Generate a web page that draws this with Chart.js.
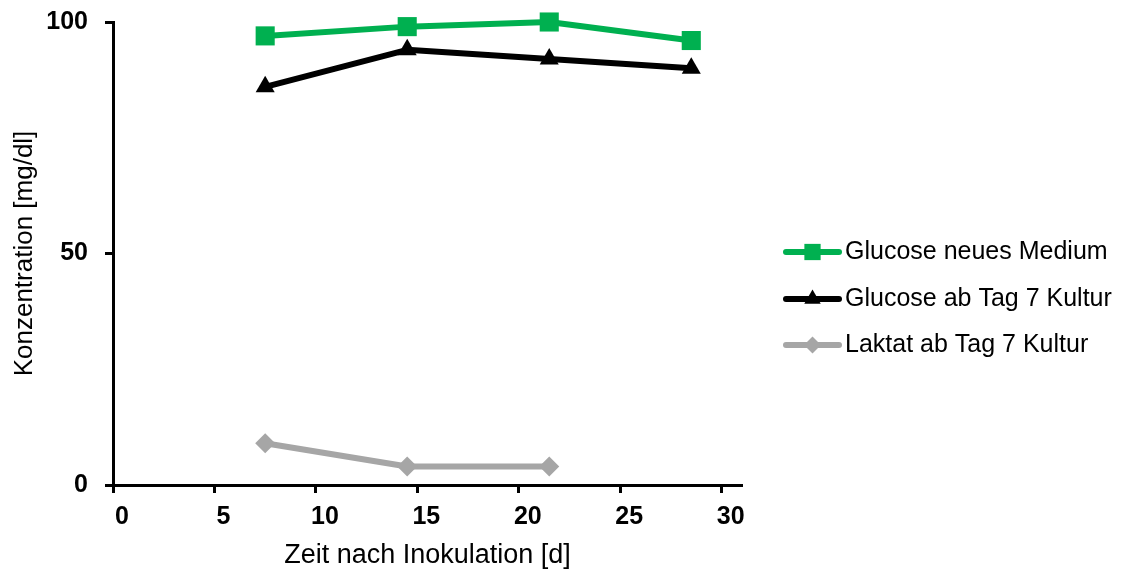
<!DOCTYPE html>
<html>
<head>
<meta charset="utf-8">
<script src="https://cdn.jsdelivr.net/npm/chart.js@4.4.0/dist/chart.umd.min.js"></script>
<style>
	html, body { margin: 0; padding: 0; background: #fff; }
	#wrap { position: relative; width: 1143px; height: 574px; }
</style>
</head>
<body>
<div id="wrap"><canvas id="chart"></canvas></div>
<script>
const days = [7.5, 14.5, 21.5, 28.5];
const glucoseNeu = [97, 99, 100, 96];
const glucoseTag7 = [86, 94, 92, 90];
const laktatTag7 = [9, 4, 4];
const xTickValues = [0, 5, 10, 15, 20, 25, 30];
const yTickValues = [0, 50, 100];
const seriesNames = ['Glucose neues Medium', 'Glucose ab Tag 7 Kultur', 'Laktat ab Tag 7 Kultur'];

const FONT = "'Liberation Sans', Arial, sans-serif";

function points(values) {
	return values.map((v, i) => ({ x: days[i], y: v }));
}

function series(i, values, color, style, radius, legendRadius) {
	return {
		label: seriesNames[i],
		data: points(values),
		borderColor: color,
		backgroundColor: color,
		pointBackgroundColor: color,
		pointBorderWidth: 0,
		pointStyle: style,
		pointRadius: radius,
		pointHoverRadius: radius,
		borderWidth: 6,
		borderJoinStyle: 'round',
		borderCapStyle: 'round',
		clip: false,
		legendRadius: legendRadius
	};
}

// legend on the right: a short line with the marker on it, then the name
const sideLegend = {
	id: 'sideLegend',
	afterDraw(chart) {
		const ctx = chart.ctx;
		const x0 = 786, x1 = 839, rows = [252, 299, 345];
		chart.data.datasets.forEach((ds, i) => {
			const y = rows[i];
			ctx.save();
			ctx.strokeStyle = ds.borderColor;
			ctx.lineWidth = ds.borderWidth;
			ctx.lineCap = 'round';
			ctx.beginPath();
			ctx.moveTo(x0, y);
			ctx.lineTo(x1, y);
			ctx.stroke();
			ctx.fillStyle = ds.pointBackgroundColor;
			Chart.helpers.drawPoint(ctx, { pointStyle: ds.pointStyle, radius: ds.legendRadius, borderWidth: 0 }, (x0 + x1) / 2, y);
			ctx.fillStyle = '#000';
			ctx.font = '25px ' + FONT;
			ctx.textBaseline = 'middle';
			ctx.fillText(ds.label, 845, y);
			ctx.restore();
		});
	}
};

const chart = new Chart(document.getElementById('chart'), {
	type: 'line',
	data: {
		datasets: [
			series(0, glucoseNeu, '#00B050', 'rect', 13.5, 11.5),
			series(1, glucoseTag7, '#000000', 'triangle', 11, 9.5),
			series(2, laktatTag7, '#A6A6A6', 'rectRot', 10, 8.5)
		]
	},
	options: {
		responsive: true,
		maintainAspectRatio: false,
		animation: false,
		layout: { padding: { top: 22, right: 401, left: 0, bottom: 0 } },
		plugins: {
			legend: { display: false },
			tooltip: { enabled: false }
		},
		scales: {
			x: {
				type: 'linear',
				min: 0,
				max: 31,
				afterBuildTicks: s => { s.ticks = xTickValues.map(v => ({ value: v })); },
				afterFit: s => { s.height = 89; },
				border: { color: '#000', width: 3 },
				grid: { drawOnChartArea: false, drawTicks: true, tickLength: 8, tickColor: '#000', tickWidth: 3 },
				ticks: {
					color: '#000',
					font: { family: FONT, size: 25, weight: 'bold' },
					padding: 9,
					labelOffset: 9,
					maxRotation: 0,
					autoSkip: false
				},
				title: {
					display: true,
					text: 'Zeit nach Inokulation [d]',
					color: '#000',
					font: { family: FONT, size: 27 },
					padding: { top: 0, bottom: 2 }
				}
			},
			y: {
				min: 0,
				max: 100,
				afterBuildTicks: s => { s.ticks = yTickValues.map(v => ({ value: v })); },
				// fixed width, and no extra room above the top label
				afterFit: s => { s.width = 113; s.paddingTop = 0; s.paddingBottom = 0; },
				border: { color: '#000', width: 3 },
				grid: { drawOnChartArea: false, drawTicks: true, tickLength: 8, tickColor: '#000', tickWidth: 3 },
				ticks: {
					color: '#000',
					font: { family: FONT, size: 25, weight: 'bold' },
					padding: 17
				},
				title: {
					display: true,
					text: 'Konzentration [mg/dl]',
					color: '#000',
					font: { family: FONT, size: 26 },
					padding: { top: 9, bottom: 0 }
				}
			}
		}
	},
	plugins: [sideLegend]
});
</script>
</body>
</html>
